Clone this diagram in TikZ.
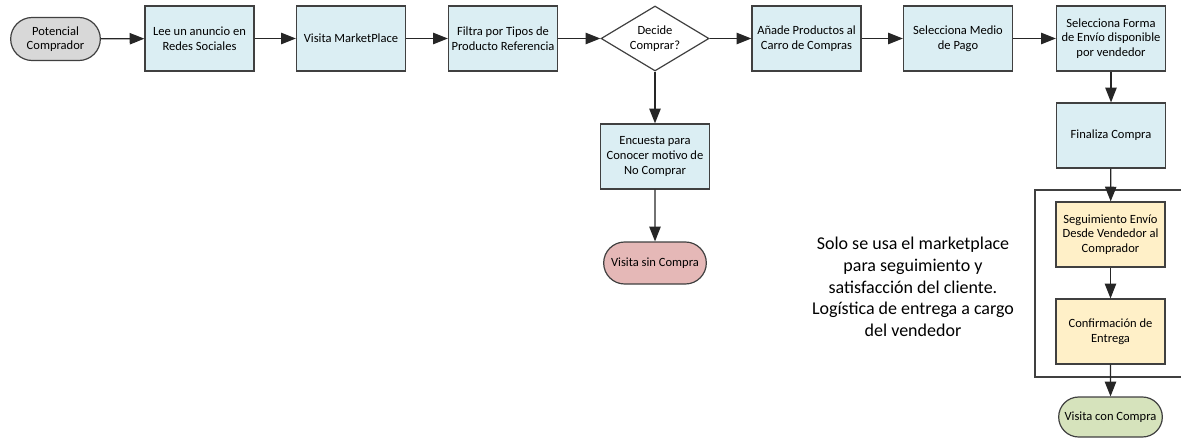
\documentclass[tikz,border=0pt]{standalone}
\usepackage{fontspec}
\setmainfont{Carlito}
\usepackage{xcolor}
\definecolor{celeste}{RGB}{219,238,243}
\definecolor{gris}{RGB}{216,216,216}
\definecolor{rosa}{RGB}{229,184,183}
\definecolor{amarillo}{RGB}{255,240,200}
\definecolor{verde}{RGB}{214,227,188}
\definecolor{borde}{RGB}{64,64,64}
\usetikzlibrary{shapes,arrows.meta,positioning}

\begin{document}
\begin{tikzpicture}[x=0.75pt,y=-0.75pt,
        every node/.style={font=\fontsize{9.4}{10.9}\selectfont, align=center},
        paso/.style={draw=borde, fill=celeste, line width=0.9pt,
                     minimum width=81.75pt, minimum height=48.75pt, inner sep=2pt},
        entrega/.style={paso, fill=amarillo},
        inicio/.style={draw=borde, line width=0.9pt, rounded rectangle,
                       minimum width=81pt, minimum height=31.5pt, inner sep=2pt},
        decision/.style={draw=borde, fill=white, line width=0.9pt, diamond, aspect=1.66,
                         minimum width=81pt, minimum height=48.75pt, inner sep=0pt},
        flecha/.style={draw=black!85, line width=0.9pt,
                       -{Triangle[length=11pt,width=8.5pt]}}]
    \useasboundingbox (0,0) rectangle (1181,442);
    \node[inicio, fill=gris, minimum width=71.25pt, minimum height=32.25pt]
        (comprador) at (55.5,39) {Potencial\\Comprador};
    \node[paso] (anuncio) at (199.5,38.5) {Lee un anuncio en\\Redes Sociales};
    \node[paso] (visita) at (351,38.5) {Visita MarketPlace};
    \node[paso] (filtra) at (503,38.5) {Filtra por Tipos de\\Producto Referencia};
    \node[decision] (decide) at (655,38.5) {Decide\\Comprar?};
    \node[paso] (carro) at (806.5,38.5) {Añade Productos al\\Carro de Compras};
    \node[paso] (pago) at (958,38.5) {Selecciona Medio\\de Pago};
    \node[paso] (envio) at (1111,38.5) {Selecciona Forma\\de Envío disponible\\por vendedor};
    \node[paso] (finaliza) at (1111,135.5) {Finaliza Compra};
    \node[paso] (encuesta) at (655,156.5) {Encuesta para\\Conocer motivo de\\No Comprar};
    \node[inicio, fill=rosa] (sincompra) at (655,263) {Visita sin Compra};
    \draw[draw=borde, line width=0.9pt] (1035,190) rectangle (1195,377);
    \node[entrega] (seguimiento) at (1110.5,234.5) {Seguimiento Envío\\Desde Vendedor al\\Comprador};
    \node[entrega] (confirma) at (1110.5,331.5) {Confirmación de\\Entrega};
    \node[inicio, fill=verde, minimum width=81.75pt, minimum height=30pt]
        (concompra) at (1110.5,417) {Visita con Compra};
    \node[font=\fontsize{13.5}{16.3}\selectfont] (nota) at (913,287)
        {Solo se usa el marketplace\\para seguimiento y\\satisfacción del cliente.\\Logística de entrega a cargo\\del vendedor};

    \draw[flecha] (comprador) -- (anuncio);
    \draw[flecha] (anuncio) -- (visita);
    \draw[flecha] (visita) -- (filtra);
    \draw[flecha] (filtra) -- (decide);
    \draw[flecha] (decide) -- (carro);
    \draw[flecha] (carro) -- (pago);
    \draw[flecha] (pago) -- (envio);
    \draw[flecha] (decide.south) -- (encuesta);
    \draw[flecha] (encuesta) -- (sincompra);
    \draw[flecha] (envio) -- (finaliza);
    \draw[flecha] (finaliza) -- (seguimiento);
    \draw[flecha] (seguimiento) -- (confirma);
    \draw[flecha] (confirma) -- (concompra);
\end{tikzpicture}
\end{document}
